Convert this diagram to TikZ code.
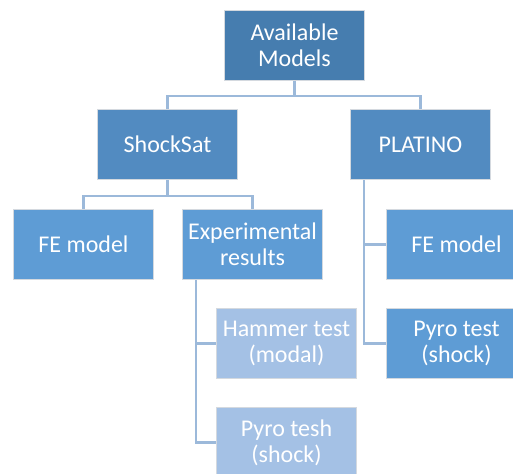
\documentclass[tikz,border=0pt]{standalone}
\usepackage{fontspec}
\setmainfont{Carlito}
\usepackage{tikz}

\definecolor{rootblue}{HTML}{467DAF}
\definecolor{midblue}{HTML}{528BC1}
\definecolor{leafblue}{HTML}{5E9CD5}
\definecolor{paleblue}{HTML}{A4C1E5}
\definecolor{linkblue}{HTML}{9CB9DA}
\definecolor{edgegray}{HTML}{D4D9DF}

\begin{document}
\begin{tikzpicture}[x=1pt,y=-1pt,
    box/.style={draw=edgegray, line width=1pt, text=white, anchor=north west,
        minimum width=140pt, minimum height=70pt, inner sep=0pt, align=center,
        font=\fontsize{24}{26}\selectfont},
    link/.style={draw=linkblue, line width=2.2pt}]
    \useasboundingbox (0,0) rectangle (513,473);
    \clip (0,0) rectangle (513,473);

    % Top level
    \node[box, fill=rootblue] (avail) at (224,10) {Available\\Models};

    % Projects
    \node[box, fill=midblue] (shock) at (97,109) {ShockSat};
    \node[box, fill=midblue] (plat) at (350,109) {PLATINO};

    % ShockSat models
    \node[box, fill=leafblue] (feA) at (13,209) {FE model};
    \node[box, fill=leafblue] (exp) at (182,209) {Experimental\\results};

    % PLATINO models
    \node[box, fill=leafblue] (feB) at (386,209) {FE model};
    \node[box, fill=leafblue] (pyroB) at (386,308) {Pyro test\\(shock)};

    % Experimental tests
    \node[box, fill=paleblue] (hammer) at (216,308) {Hammer test\\(modal)};
    \node[box, fill=paleblue] (pyroA) at (216,407) {Pyro tesh\\(shock)};

    % Connectors
    \draw[link] (avail.south) -- +(0,15) -| (shock.north);
    \draw[link] (avail.south) -- +(0,15) -| (plat.north);
    \draw[link] (shock.south) -- +(0,16) -| (feA.north);
    \draw[link] (shock.south) -- +(0,16) -| (exp.north);
    \draw[link] ([xshift=14pt]plat.south west) |- (feB.west);
    \draw[link] ([xshift=14pt]plat.south west) |- (pyroB.west);
    \draw[link] ([xshift=14pt]exp.south west) |- (hammer.west);
    \draw[link] ([xshift=14pt]exp.south west) |- (pyroA.west);
\end{tikzpicture}
\end{document}
